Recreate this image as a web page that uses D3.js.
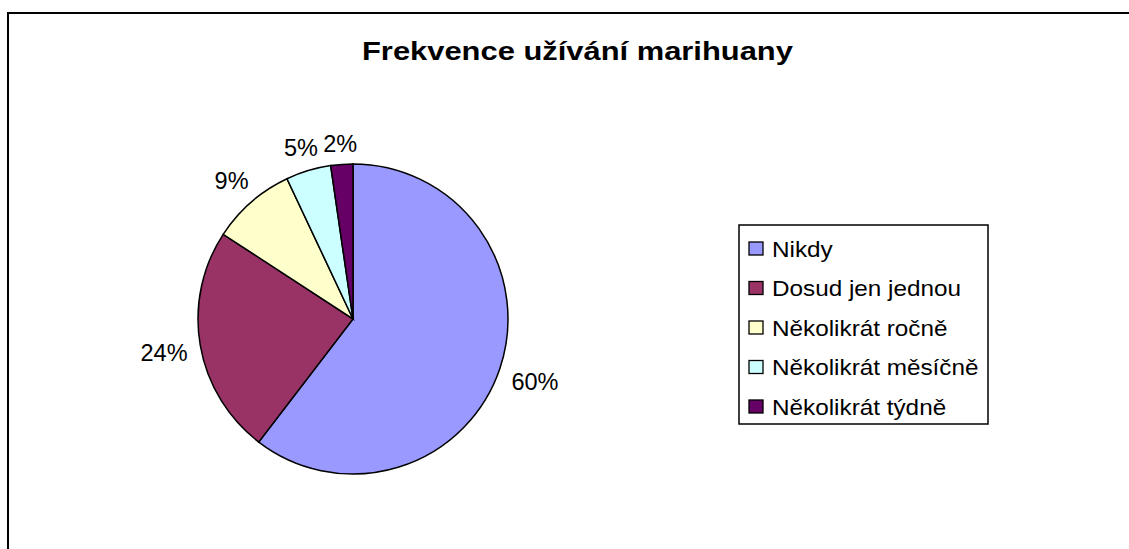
<!DOCTYPE html>
<html>
<head>
<meta charset="utf-8">
<script src="https://cdn.jsdelivr.net/npm/d3@7"></script>
<style>
  body { margin: 0; background: #fff; }
  svg { display: block; font-family: "Liberation Sans", Arial, sans-serif; }
</style>
</head>
<body>
<div id="chart"></div>
<script>
// data
const categories = ["Nikdy", "Dosud jen jednou", "Několikrát ročně", "Několikrát měsíčně", "Několikrát týdně"];
const values = [60.4, 23.8, 8.8, 4.7, 2.3];
const colors = ["#9999FF", "#993366", "#FFFFCC", "#CCFFFF", "#660066"];
const title = "Frekvence užívání marihuany";

const width = 1129, height = 549;
const cx = 353, cy = 319, radius = 155;

const svg = d3.select("#chart").append("svg")
    .attr("width", width).attr("height", height);

// chart frame (right and bottom edges are cut off)
svg.append("path")
    .attr("d", "M8,549 L8,13 L1129,13")
    .attr("fill", "none").attr("stroke", "#000").attr("stroke-width", 2);

// the original title is drawn wider than the font, stretch the glyphs
const titleText = svg.append("text")
    .attr("font-size", 25).attr("font-weight", "bold")
    .text(title);
const tw = titleText.node().getComputedTextLength();
titleText.attr("transform", `translate(362,60) scale(${431 / tw},1)`);

const color = d3.scaleOrdinal().domain(categories).range(colors);

const pie = d3.pie().sort(null).value(d => d.value);
const arcs = pie(categories.map((c, i) => ({ name: c, value: values[i] })));
const arc = d3.arc().innerRadius(0).outerRadius(radius);

const g = svg.append("g").attr("transform", `translate(${cx},${cy})`);

g.selectAll("path.slice").data(arcs).join("path")
    .attr("class", "slice")
    .attr("d", arc)
    .attr("fill", d => color(d.data.name))
    .attr("stroke", "#000").attr("stroke-width", 1.5);

const total = d3.sum(values);
const labels = g.selectAll("text.lbl").data(arcs).join("text")
    .attr("class", "lbl")
    .attr("font-size", 23.5)
    .attr("text-anchor", "middle")
    .attr("dominant-baseline", "central")
    .text(d => Math.round(d.data.value / total * 100) + "%");

labels.each(function(d) {
    const a = (d.startAngle + d.endAngle) / 2;
    const dx = Math.sin(a), dy = -Math.cos(a);
    const hw = this.getComputedTextLength() / 2, hh = 9;
    const dist = radius + 12 + Math.abs(dx) * hw + Math.abs(dy) * hh;
    d3.select(this).attr("x", dx * dist).attr("y", dy * dist + 1.5);
});

// legend
const legend = svg.append("g").attr("transform", "translate(739,225)");
legend.append("rect")
    .attr("width", 249).attr("height", 199)
    .attr("fill", "#fff").attr("stroke", "#000").attr("stroke-width", 1.5);

const item = legend.selectAll("g.item").data(categories).join("g")
    .attr("class", "item")
    .attr("transform", (d, i) => `translate(10,${23 + i * 39.5})`);

item.append("rect")
    .attr("x", 0).attr("y", -6).attr("width", 14).attr("height", 13)
    .attr("fill", d => color(d)).attr("stroke", "#000").attr("stroke-width", 1.3);

item.append("text")
    .attr("transform", "translate(23,1) scale(1.08,1)")
    .attr("dominant-baseline", "central")
    .attr("font-size", 22.5)
    .text(d => d);
</script>
</body>
</html>
